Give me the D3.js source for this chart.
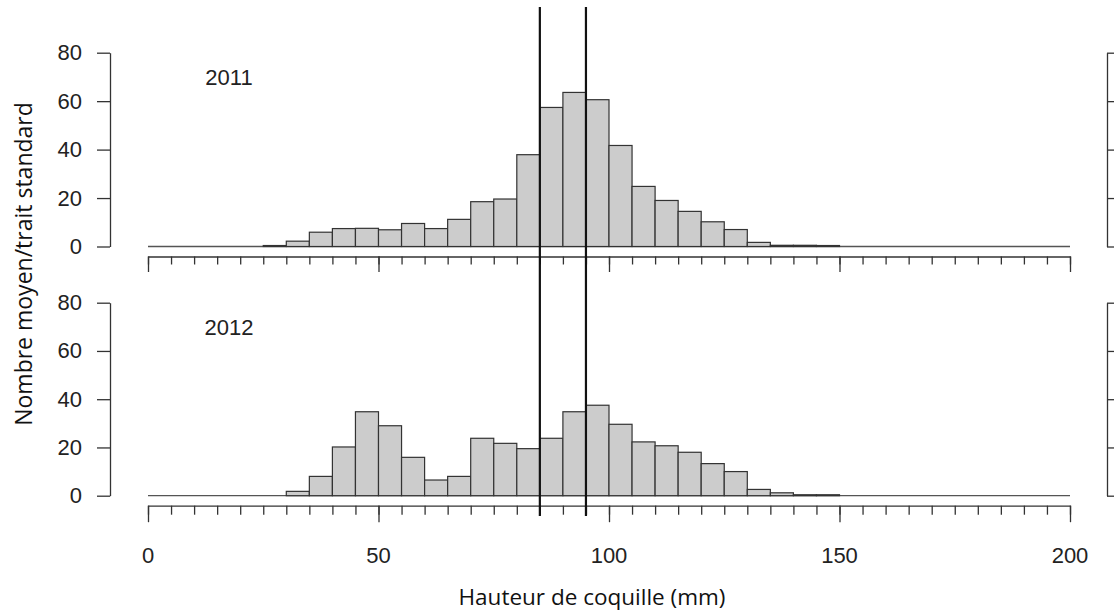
<!DOCTYPE html>
<html><head><meta charset="utf-8">
<script src="https://cdn.jsdelivr.net/npm/d3@7"></script>
<style>body{margin:0;background:#fff}svg{display:block}</style>
</head><body>
<svg id="c" width="1114" height="611"></svg>
<script>
// Bin lower edges (mm), 5 mm bins
const binStarts = [25,30,35,40,45,50,55,60,65,70,75,80,85,90,95,100,105,110,115,120,125,130,135,140,145];
const values2011 = [0.4,2.2,5.9,7.4,7.5,6.9,9.5,7.4,11.2,18.5,19.6,37.9,57.4,63.6,60.6,41.7,24.8,19.0,14.5,10.2,7.0,1.7,0.5,0.5,0.4];
const values2012 = [0,1.8,8.0,20.2,34.8,29.0,15.9,6.5,8.0,23.8,21.7,19.5,23.8,34.8,37.5,29.6,22.3,20.7,18.0,13.3,10.0,2.6,1.2,0.4,0.4];
const years = ["2011","2012"];
const yTicks = [0,20,40,60,80];
const xMajor = [0,50,100,150,200];
const refLines = [85,95];
const binWidth = 5;

const svg = d3.select("#c");
const x = d3.scaleLinear().domain([0,200]).range([148,1070]);
const panels = [
  {year: years[0], vals: values2011, y: d3.scaleLinear().domain([0,80]).range([246.5,52.7]), axisY: 256.5, tick: 8},
  {year: years[1], vals: values2012, y: d3.scaleLinear().domain([0,80]).range([495.7,302.7]), axisY: 505.7, tick: 9}
];
const ink = "#333";
const font = "'Liberation Sans', Arial, sans-serif";
const fs = 22;

panels.forEach(p => {
  const g = svg.append("g");
  g.append("line").attr("x1", x(0)).attr("x2", x(200)).attr("y1", p.y(0)).attr("y2", p.y(0))
    .attr("stroke", "#555").attr("stroke-width", 1.3);
  g.selectAll("rect").data(binStarts.map((b,i)=>({b, v:p.vals[i]})).filter(d=>d.v>0)).join("rect")
    .attr("x", d => x(d.b)).attr("width", d => x(d.b+binWidth)-x(d.b))
    .attr("y", d => p.y(d.v)).attr("height", d => p.y(0)-p.y(d.v))
    .attr("fill", "#cccccc").attr("stroke", ink).attr("stroke-width", 1.2);
  const ya = d3.axisLeft(p.y).tickValues(yTicks).tickSize(13).tickPadding(15).tickSizeOuter(0);
  const yg = g.append("g").attr("transform", "translate(110,0)").call(ya);
  yg.select(".domain").attr("stroke", ink).attr("stroke-width", 1.3);
  yg.selectAll(".tick line").attr("stroke", ink).attr("stroke-width", 1.3);
  yg.selectAll(".tick text").attr("font-family", font).attr("font-size", fs).attr("fill", "#222");
  const xa = d3.axisBottom(x).tickValues(d3.range(0,201,5)).tickSize(p.tick).tickFormat("").tickSizeOuter(0);
  const xg = g.append("g").attr("transform", `translate(0,${p.axisY})`).call(xa);
  xg.select(".domain").attr("stroke", ink).attr("stroke-width", 1.3);
  xg.selectAll(".tick line").attr("stroke", ink).attr("stroke-width", 1.3);
  const xb = d3.axisBottom(x).tickValues(xMajor).tickSize(p.tick+7.5).tickFormat("").tickSizeOuter(0);
  const xg2 = g.append("g").attr("transform", `translate(0,${p.axisY})`).call(xb);
  xg2.select(".domain").remove();
  xg2.selectAll(".tick line").attr("stroke", ink).attr("stroke-width", 1.3);
  g.append("text").attr("x", 229).attr("y", p.y(70)).attr("dy", "0.35em").attr("text-anchor","middle")
    .attr("font-family", font).attr("font-size", fs).attr("fill", "#222").text(p.year);
  const ra = d3.axisRight(p.y).tickValues(yTicks).tickSize(10).tickFormat("").tickSizeOuter(0);
  const rg = g.append("g").attr("transform", "translate(1107,0)").call(ra);
  rg.select(".domain").attr("stroke", ink).attr("stroke-width", 1.3);
  rg.selectAll(".tick line").attr("stroke", ink).attr("stroke-width", 1.3);
});

svg.append("g").selectAll("text").data(xMajor).join("text")
  .attr("x", d => x(d)).attr("y", 555).attr("dy", "0.35em").attr("text-anchor", "middle")
  .attr("font-family", font).attr("font-size", fs).attr("fill", "#222").text(d => d);

svg.append("g").selectAll("line").data(refLines).join("line")
  .attr("x1", d => x(d)).attr("x2", d => x(d)).attr("y1", 7).attr("y2", 516)
  .attr("stroke", "#111").attr("stroke-width", 2.2);

const tfont = "'Open Sans', 'Noto Sans', sans-serif";
svg.append("text").attr("x", 592).attr("y", 597).attr("dy", "0.35em").attr("text-anchor", "middle")
  .attr("font-family", tfont).attr("font-size", 22.5).attr("fill", "#111").text("Hauteur de coquille (mm)");
svg.append("text").attr("transform", "translate(24,264) rotate(-90)").attr("dy", "0.35em").attr("text-anchor", "middle")
  .attr("font-family", tfont).attr("font-size", 23).attr("fill", "#111").text("Nombre moyen/trait standard");
</script>
</body></html>
